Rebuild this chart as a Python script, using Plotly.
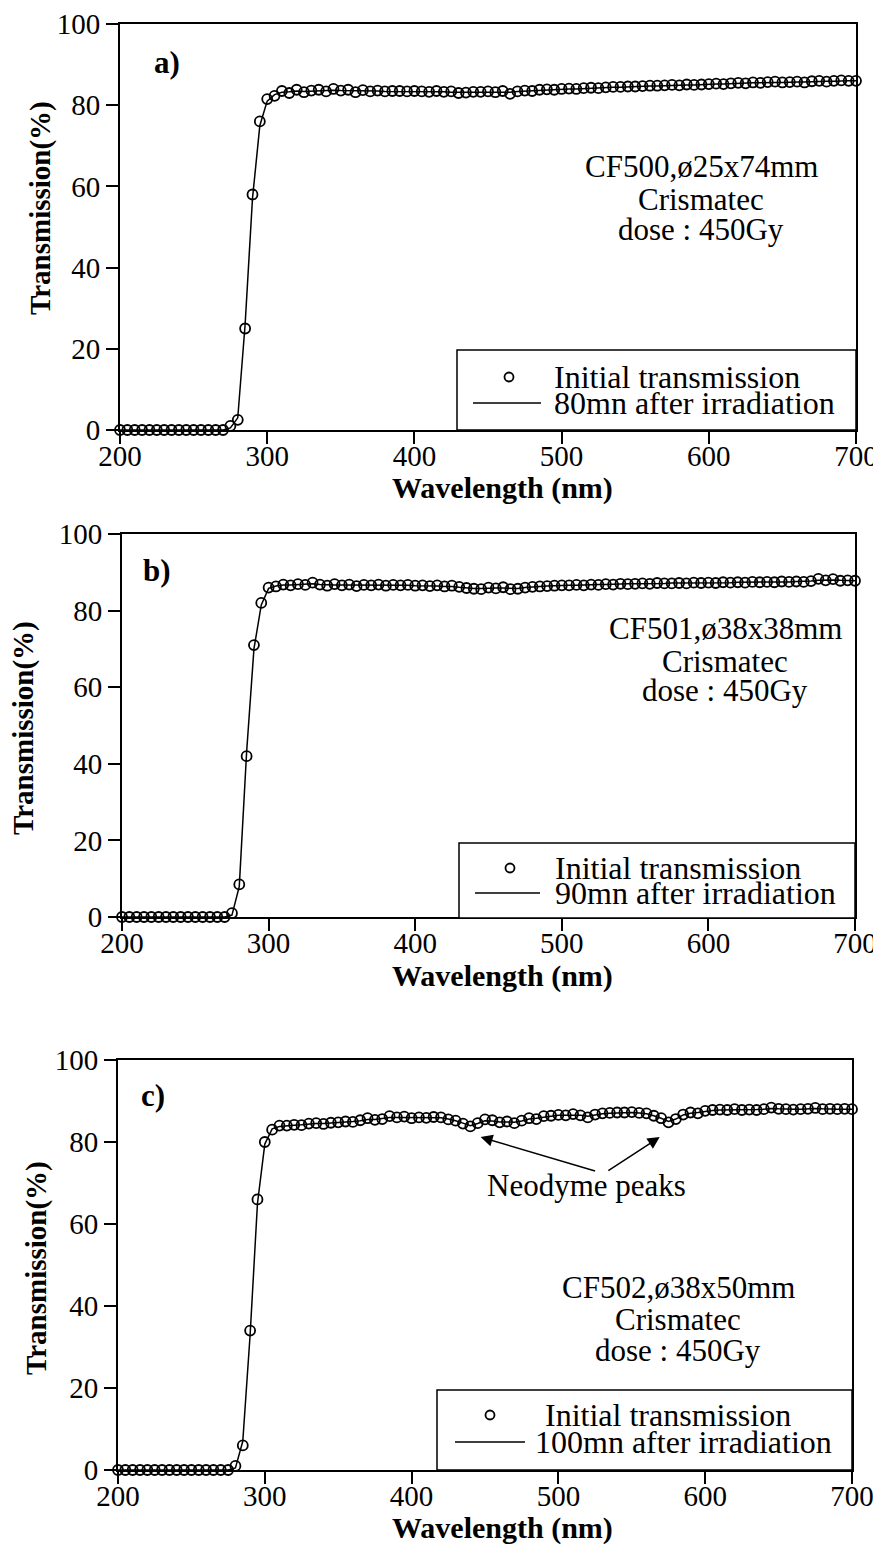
import plotly.graph_objects as go

# ---------------- data ----------------
wavelength = list(range(200, 705, 5))  # measurement grid, nm

a_initial = [0, 0, 0, 0, 0, 0, 0, 0, 0, 0, 0, 0, 0, 0, 0,
             1.0, 2.5, 25.0, 58.0, 76.0, 81.5,
             82.3, 83.5, 83.0, 83.8, 83.2, 83.6, 83.8, 83.4, 84.0, 83.6,
             83.8, 83.2, 83.7, 83.4, 83.6, 83.4, 83.5, 83.5, 83.4, 83.5,
             83.4, 83.3, 83.5, 83.3, 83.4, 83.0, 83.1, 83.3, 83.3, 83.4,
             83.2, 83.5, 82.8, 83.4, 83.6, 83.5, 83.8, 83.9, 83.8, 84.0,
             84.1, 84.0, 84.2, 84.3, 84.2, 84.4, 84.5, 84.5, 84.6, 84.6,
             84.7, 84.8, 84.8, 84.9, 85.0, 84.9, 85.1, 85.0, 85.1, 85.2,
             85.3, 85.2, 85.4, 85.5, 85.4, 85.6, 85.5, 85.7, 85.8, 85.6,
             85.7, 85.8, 85.6, 85.9, 86.0, 85.8, 86.0, 86.1, 86.0, 86.0]
a_after = [0, 0, 0, 0, 0, 0, 0, 0, 0, 0, 0, 0, 0, 0, 0,
           0.5, 3.0, 26.0, 57.0, 75.0, 81.0,
           82.6, 83.2, 83.3, 83.5, 83.4, 83.5, 83.6, 83.6, 83.7, 83.6,
           83.6, 83.5, 83.5, 83.5, 83.5, 83.4, 83.4, 83.4, 83.4, 83.4,
           83.3, 83.3, 83.3, 83.3, 83.2, 83.2, 83.2, 83.2, 83.2, 83.3,
           83.3, 83.3, 83.2, 83.4, 83.5, 83.6, 83.7, 83.8, 83.8, 83.9,
           84.0, 84.0, 84.1, 84.2, 84.2, 84.3, 84.4, 84.4, 84.5, 84.5,
           84.6, 84.7, 84.7, 84.8, 84.9, 84.9, 85.0, 85.0, 85.1, 85.1,
           85.2, 85.2, 85.3, 85.4, 85.4, 85.5, 85.5, 85.6, 85.6, 85.6,
           85.7, 85.7, 85.7, 85.8, 85.9, 85.9, 85.9, 86.0, 86.0, 86.0]

b_initial = [0, 0, 0, 0, 0, 0, 0, 0, 0, 0, 0, 0, 0, 0, 0,
             1.0, 8.5, 42.0, 71.0, 82.0, 86.0,
             86.3, 86.8, 86.6, 86.9, 86.7, 87.3, 86.8, 86.5, 86.9, 86.6,
             86.8, 86.4, 86.7, 86.6, 86.8, 86.5, 86.7, 86.6, 86.7, 86.5,
             86.6, 86.4, 86.6, 86.3, 86.5, 86.2, 85.9, 85.7, 85.6, 86.0,
             85.8, 86.1, 85.6, 85.7, 86.0, 86.2, 86.3, 86.4, 86.5, 86.6,
             86.6, 86.7, 86.6, 86.8, 86.7, 86.9, 86.8, 87.0, 86.9, 87.0,
             87.1, 87.0, 87.2, 87.1, 87.1, 87.2, 87.1, 87.3, 87.2, 87.3,
             87.2, 87.4, 87.3, 87.4, 87.3, 87.5, 87.4, 87.5, 87.4, 87.6,
             87.5, 87.6, 87.5, 87.7, 88.3, 87.9, 88.2, 87.8, 87.9, 87.8]
b_after = [0, 0, 0, 0, 0, 0, 0, 0, 0, 0, 0, 0, 0, 0, 0,
           0.5, 8.0, 43.0, 70.0, 81.5, 85.8,
           86.4, 86.7, 86.7, 86.8, 86.8, 87.0, 86.8, 86.7, 86.7, 86.7,
           86.7, 86.6, 86.6, 86.6, 86.6, 86.6, 86.6, 86.6, 86.6, 86.5,
           86.5, 86.4, 86.4, 86.3, 86.3, 86.1, 85.9, 85.8, 85.8, 85.9,
           85.9, 85.9, 85.8, 85.8, 86.0, 86.2, 86.3, 86.4, 86.5, 86.6,
           86.6, 86.6, 86.7, 86.7, 86.8, 86.8, 86.9, 86.9, 87.0, 87.0,
           87.0, 87.1, 87.1, 87.1, 87.2, 87.2, 87.2, 87.2, 87.3, 87.3,
           87.3, 87.3, 87.3, 87.4, 87.4, 87.4, 87.4, 87.5, 87.5, 87.5,
           87.5, 87.6, 87.6, 87.7, 87.9, 88.0, 88.0, 87.9, 87.9, 87.8]

c_initial = [0, 0, 0, 0, 0, 0, 0, 0, 0, 0, 0, 0, 0, 0, 0, 0,
             1.0, 6.0, 34.0, 66.0, 80.0,
             83.0, 84.0, 84.0, 84.2, 84.1, 84.5, 84.6, 84.4, 84.7, 84.8,
             85.0, 84.9, 85.3, 85.8, 85.4, 85.6, 86.3, 86.0, 86.2, 85.8,
             86.0, 85.9, 86.1, 86.0, 85.5, 85.2, 84.5, 83.8, 84.6, 85.5,
             85.3, 84.8, 85.0, 84.6, 85.2, 85.8, 85.6, 86.3, 86.4, 86.6,
             86.5, 86.8, 86.5, 86.0, 86.7, 87.0, 87.1, 87.2, 87.2, 87.3,
             87.1, 87.0, 86.4, 85.8, 84.8, 85.6, 86.7, 87.2, 87.0, 87.6,
             87.8, 87.9, 87.8, 88.0, 87.8, 87.9, 87.8, 88.0, 88.4, 88.1,
             88.0, 87.9, 88.0, 88.1, 88.3, 88.0, 88.1, 88.0, 88.1, 88.0]
c_after = [0, 0, 0, 0, 0, 0, 0, 0, 0, 0, 0, 0, 0, 0, 0, 0,
           0.5, 7.0, 33.0, 65.0, 79.5,
           83.2, 83.8, 84.0, 84.1, 84.2, 84.4, 84.5, 84.5, 84.6, 84.8,
           84.9, 85.0, 85.2, 85.5, 85.5, 85.7, 86.0, 86.0, 86.0, 85.9,
           85.9, 85.9, 86.0, 85.9, 85.6, 85.2, 84.6, 84.0, 84.5, 85.2,
           85.1, 84.9, 84.9, 84.8, 85.1, 85.6, 85.8, 86.1, 86.3, 86.5,
           86.5, 86.6, 86.5, 86.3, 86.6, 86.9, 87.0, 87.1, 87.1, 87.2,
           87.1, 86.9, 86.4, 85.8, 85.0, 85.6, 86.6, 87.0, 87.2, 87.5,
           87.7, 87.8, 87.8, 87.9, 87.9, 87.9, 87.9, 88.0, 88.2, 88.1,
           88.0, 88.0, 88.0, 88.1, 88.2, 88.1, 88.0, 88.0, 88.0, 88.0]

x_ticks = [200, 300, 400, 500, 600, 700]
y_ticks = [0, 20, 40, 60, 80, 100]

panel_labels = ["a)", "b)", "c)"]
initial_label = "Initial transmission"
after_labels = ["80mn after irradiation", "90mn after irradiation", "100mn after irradiation"]
sample_lines = [["CF500,ø25x74mm", "Crismatec", "dose : 450Gy"],
                ["CF501,ø38x38mm", "Crismatec", "dose : 450Gy"],
                ["CF502,ø38x50mm", "Crismatec", "dose : 450Gy"]]
initial_series = [a_initial, b_initial, c_initial]
after_series = [a_after, b_after, c_after]

# ---------------- layout geometry (page pixels) ----------------
PAGE_OFF = 8                      # default page margin around the figure
W, H = 881 - PAGE_OFF, 1553 - 2 * PAGE_OFF
FONT = "Liberation Serif"
# plot boxes: left, right, top, bottom (page px)
boxes = [(120, 856, 24, 430), (122, 855, 534, 917), (118, 852, 1060, 1470)]
sample_pos = [(701, [166, 199, 229]), (725, [629, 661, 690]), (678, [1287, 1319, 1350])]
label_pos = [(167, 62), (157, 570), (153, 1095)]
xtitle_pos = [(502, 488), (502, 976), (502, 1528)]
ytitle_pos = [(40, 208), (23, 728), (36, 1268)]
# legend boxes: left, right, top, bottom; symbol x centre/line ends; text x; row y's
legend_box = [(457, 856, 350, 430), (459, 855, 843, 918), (437, 852, 1390, 1470)]
legend_sym = [(509, 473, 541), (510, 475, 540), (490, 455, 525)]
legend_text_x = [(552, 552), (553, 553), (543, 533)]
legend_rows = [(377, 403), (868, 893), (1415, 1442)]


def px(x):
    return (x - PAGE_OFF) / W


def py(y):
    return 1 - (y - PAGE_OFF) / H


fig = go.Figure()
annotations = []
shapes = []
layout = dict(width=W, height=H, margin=dict(l=0, r=0, t=0, b=0, autoexpand=False),
              paper_bgcolor="white", plot_bgcolor="white", showlegend=False,
              font=dict(family=FONT, size=27, color="black"))


def note(text, x, y, size, angle=0, xanchor="center"):
    return dict(text=text, x=px(x), y=py(y), xref="paper", yref="paper", showarrow=False,
                xanchor=xanchor, yanchor="middle", textangle=angle,
                font=dict(family=FONT, size=size, color="black"))


for i in range(3):
    n = "" if i == 0 else str(i + 1)
    xa, ya = "x" + n, "y" + n
    l, r, t, b = boxes[i]
    fig.add_trace(go.Scatter(x=wavelength, y=initial_series[i], mode="markers",
                             name=initial_label, xaxis=xa, yaxis=ya,
                             cliponaxis=False,
                             marker=dict(symbol="circle-open", size=10, color="black",
                                         line=dict(width=1.8, color="black"))))
    fig.add_trace(go.Scatter(x=wavelength, y=after_series[i], mode="lines",
                             name=after_labels[i], xaxis=xa, yaxis=ya,
                             cliponaxis=False,
                             line=dict(color="black", width=1.5)))
    axis_common = dict(showline=True, linecolor="black", linewidth=2, mirror=True,
                       ticks="outside", ticklen=12, tickwidth=2, tickcolor="black",
                       showgrid=False, zeroline=False, automargin=False,
                       ticklabeloverflow="allow",
                       tickfont=dict(family=FONT, size=29, color="black"))
    layout["xaxis" + n] = dict(domain=[px(l), px(r)], range=[200, 700], anchor=ya,
                               tickvals=x_ticks, ticktext=[str(v) for v in x_ticks],
                               ticklabelstandoff=-13, **axis_common)
    layout["yaxis" + n] = dict(domain=[py(b), py(t)], range=[0, 100], anchor=xa,
                               tickvals=y_ticks, ticktext=[str(v) for v in y_ticks],
                               ticklabelstandoff=0, **axis_common)

    # legend (box, symbols, texts)
    bl, br, bt, bb = legend_box[i]
    shapes.append(dict(type="rect", xref="paper", yref="paper",
                       x0=px(bl), x1=px(br), y0=py(bb), y1=py(bt),
                       line=dict(color="black", width=1.5), fillcolor="white", layer="above"))
    cx, lx0, lx1 = legend_sym[i]
    r1, r2 = legend_rows[i]
    shapes.append(dict(type="circle", xref="paper", yref="paper",
                       x0=px(cx - 4.5), x1=px(cx + 4.5), y0=py(r1 + 4.5), y1=py(r1 - 4.5),
                       line=dict(color="black", width=1.8), layer="above"))
    shapes.append(dict(type="line", xref="paper", yref="paper",
                       x0=px(lx0), x1=px(lx1), y0=py(r2), y1=py(r2),
                       line=dict(color="black", width=1.5), layer="above"))
    tx1, tx2 = legend_text_x[i]
    annotations.append(note(initial_label, tx1, r1, 32, xanchor="left"))
    annotations.append(note(after_labels[i], tx2, r2, 32, xanchor="left"))

    sx, sys_ = sample_pos[i]
    for line_txt, yy in zip(sample_lines[i], sys_):
        annotations.append(note(line_txt, sx, yy, 31))
    lx, ly = label_pos[i]
    annotations.append(note("<b>%s</b>" % panel_labels[i], lx, ly, 31))
    tx, ty = xtitle_pos[i]
    annotations.append(note("<b>Wavelength (nm)</b>", tx, ty, 30))
    vx, vy = ytitle_pos[i]
    annotations.append(note("<b>Transmission(%)</b>", vx, vy, 29, angle=-90))

# Neodyme annotation (panel c)
annotations.append(dict(text="Neodyme peaks", x=519, y=69.5, xref="x3", yref="y3",
                        xanchor="center", yanchor="middle",
                        showarrow=False, font=dict(family=FONT, size=31, color="black")))
for hx, tx_ in [(447, 526), (569, 533)]:
    annotations.append(dict(text="", x=hx, y=81.2, ax=tx_, ay=72.8, xref="x3", yref="y3",
                            axref="x3", ayref="y3", showarrow=True, arrowhead=2,
                            arrowsize=1.6, arrowwidth=1.5, arrowcolor="black"))

layout["annotations"] = annotations
layout["shapes"] = shapes
fig.update_layout(**layout)
fig.write_html("out.html")
